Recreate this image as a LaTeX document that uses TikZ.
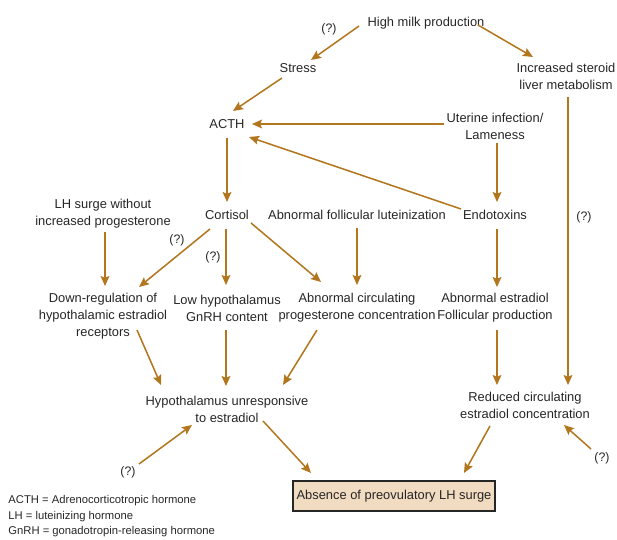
\documentclass[tikz,border=0pt]{standalone}
\usepackage{fontspec}
\setmainfont{Liberation Sans}
\usepackage{tikz}
\usetikzlibrary{arrows.meta,calc,positioning}
\definecolor{arrowbrown}{RGB}{178,118,30}
\definecolor{boxtan}{RGB}{241,219,193}

\begin{document}
\begin{tikzpicture}[x=0.03cm, y=-0.03cm,
  every node/.style={align=center, inner sep=1pt, text=black!85, font=\fontsize{11}{14.5}\selectfont},
  arr/.style={-{Stealth[length=8.5pt, width=7.5pt, inset=1.5pt]}, line width=1.3pt, arrowbrown},
  qmark/.style={font=\fontsize{10.5}{12}\selectfont}]
		\useasboundingbox (0,0) rectangle (617,540);

		\node (milk) at (426,23) {High milk production};
		
		\node (stress) at (298,68) {Stress};
		
		\node (steroid) at (566,76) {Increased steroid\\liver metabolism};
		
		\node (acth) at (227,124) {ACTH};
		
		\node (uterine) at (495,126) {Uterine infection/\\Lameness};
		
		\node (cortisol) at (227,215) {Cortisol};
		
		\node (follic) at (357,215) {Abnormal follicular luteinization};
		
		\node (endo) at (495,215) {Endotoxins};
		
		\node (lhsurge) at (103,214) {LH surge without\\increased progesterone};
		
		\node (downreg) at (103,316) {Down-regulation of\\hypothalamic estradiol\\receptors};
		
		\node (lowgnrh) at (227,308) {Low hypothalamus\\GnRH content};
		
		\node (abnprog) at (357,308) {Abnormal circulating\\progesterone concentration};
		
		\node (abnestr) at (495,308) {Abnormal estradiol\\Follicular production};
		
		\node (hypo) at (227,409) {Hypothalamus unresponsive\\to estradiol};
		
		\node (reduced) at (525,405) {Reduced circulating\\estradiol concentration};
		
		\node[draw=black!85, line width=1.2pt, fill=boxtan, minimum width=6.06cm, minimum height=0.9cm] (absence) at (394,496) {Absence of preovulatory LH surge};
		
		% question marks
		\node[qmark] (q1) at (329,29) {(?)};
		\node[qmark] (q2) at (177,240) {(?)};
		\node[qmark] (q3) at (213,257) {(?)};
		\node[qmark] (q4) at (584,217) {(?)};
		\node[qmark] (q5) at (128,472) {(?)};
		\node[qmark] (q6) at (602,458) {(?)};
		
		\node[anchor=north west, align=left, font=\fontsize{9.6}{13.2}\selectfont] (legend) at (7,494) {ACTH = Adrenocorticotropic hormone\\LH = luteinizing hormone\\GnRH = gonadotropin-releasing hormone};
		
		\draw[arr] ($(milk)+(-67,3)$) -- ($(stress)+(13,-8)$);
		\draw[arr] ($(milk)+(52,2)$) -- ($(steroid)+(-33,-19)$);
		\draw[arr] ($(stress)+(-16,10)$) -- ($(acth)+(6,-13)$);
		\draw[arr] ($(uterine)+(-51,-2)$) -- ($(acth)+(25,0)$);
		\draw[arr] ($(endo)+(-34,-6)$) -- ($(acth)+(22,13)$);
		\draw[arr] ($(acth)+(0,14)$) -- ($(cortisol)+(0,-13)$);
		\draw[arr] ($(uterine)+(2,17)$) -- ($(endo)+(2,-13)$);
		\draw[arr] ($(steroid)+(2,21)$) -- ($(reduced)+(43,-20)$);
		
		\draw[arr] ($(lhsurge)+(2,18)$) -- ($(downreg)+(2,-30)$);
		\draw[arr] ($(cortisol)+(-17,14)$) -- ($(downreg)+(36,-29)$);
		\draw[arr] ($(cortisol)+(-1,14)$) -- ($(lowgnrh)+(-1,-23)$);
		\draw[arr] ($(cortisol)+(24,8)$) -- ($(abnprog)+(-36,-26)$);
		\draw[arr] ($(follic)+(0,13)$) -- ($(abnprog)+(0,-23)$);
		\draw[arr] ($(endo)+(2,14)$) -- ($(abnestr)+(2,-21)$);
		
		\draw[arr] ($(downreg)+(34,14)$) -- ($(hypo)+(-66,-24)$);
		\draw[arr] ($(lowgnrh)+(-1,22)$) -- ($(hypo)+(-1,-23)$);
		\draw[arr] ($(abnprog)+(-40,22)$) -- ($(hypo)+(56,-24)$);
		\draw[arr] ($(abnestr)+(2,22)$) -- ($(reduced)+(-28,-20)$);
		
		\draw[arr] ($(q5)+(11,-8)$) -- ($(hypo)+(-35,16)$);
		\draw[arr] ($(hypo)+(36,12)$) -- ($(absence)+(-83,-23)$);
		\draw[arr] ($(reduced)+(-35,21)$) -- ($(absence)+(70,-23)$);
		\draw[arr] ($(q6)+(-11,-9)$) -- ($(reduced)+(39,20)$);
		\end{tikzpicture}
\end{document}
